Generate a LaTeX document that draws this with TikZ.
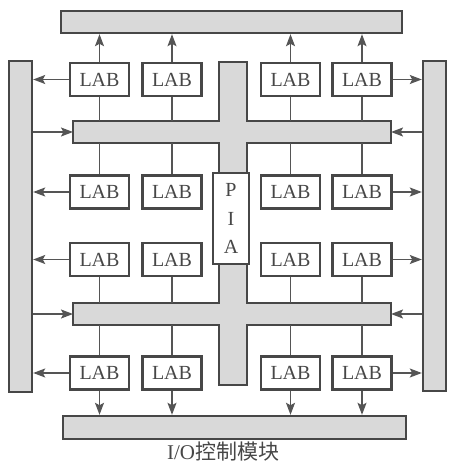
\documentclass[tikz,border=0pt]{standalone}
\usepackage{fontspec}
\setmainfont{Liberation Serif}
\newfontfamily\cjk{Noto Sans CJK SC}
\usetikzlibrary{arrows.meta,calc}
\definecolor{barfill}{HTML}{d9d9d9}
\definecolor{edge}{HTML}{474747}
\definecolor{wirec}{HTML}{555555}

\begin{document}
\begin{tikzpicture}[x=0.5pt, y=-0.5pt,
  lab/.style={draw=edge, line width=1.2pt, fill=white, minimum width=29.5pt, minimum height=16.5pt, inner sep=0pt, text=edge, font=\fontsize{10}{12}\selectfont},
  iobar/.style={draw=edge, line width=1.2pt, fill=barfill, inner sep=0pt},
  ghost/.style={inner sep=0pt, outer sep=0pt},
  wire/.style={draw=wirec, line width=0.7pt},
  sig/.style={wire, -{Stealth[length=6pt,width=4.5pt,inset=1.2pt]}}]
  \useasboundingbox (0,0) rectangle (448,464);

  % I/O control blocks
  \node[iobar, minimum width=170.5pt, minimum height=11pt] (iotop) at (231.5,22) {};
  \node[iobar, minimum width=171.5pt, minimum height=11.5pt] (iobot) at (234.5,427.5) {};
  \node[iobar, minimum width=11.5pt, minimum height=165.5pt] (iolft) at (20.5,226.5) {};
  \node[iobar, minimum width=11.5pt, minimum height=165pt] (iorgt) at (434.5,226) {};

  % Interconnect array (two buses and spine)
  \node[ghost, minimum width=159pt, minimum height=11pt] (busA) at (232,132) {};
  \node[ghost, minimum width=159pt, minimum height=11pt] (busB) at (232,314) {};
  \node[ghost, minimum width=14pt, minimum height=161.5pt] (spine) at (233,223.5) {};
  \draw[iobar] (busA.north west) -- (spine.west |- busA.north) -- (spine.north west)
    -- (spine.north east) -- (spine.east |- busA.north) -- (busA.north east)
    -- (busA.south east) -- (spine.east |- busA.south) -- (spine.east |- busB.north)
    -- (busB.north east) -- (busB.south east) -- (spine.east |- busB.south)
    -- (spine.south east) -- (spine.south west) -- (spine.west |- busB.south)
    -- (busB.south west) -- (busB.north west) -- (spine.west |- busB.north)
    -- (spine.west |- busA.south) -- (busA.south west) -- cycle;
  \node[lab, minimum width=18pt, minimum height=45.5pt, align=center,
    font=\fontsize{10}{14.25}\selectfont] (pia) at (231,218.5) {P\\I\\A};

  % LAB blocks
  \foreach \r/\y in {1/79.5,2/192,3/259.5,4/373} {
    \foreach \c/\x in {1/99.5,2/172,3/290.5,4/362} {
      \node[lab] (lab\r\c) at (\x,\y) {LAB};
    }
    \draw[sig] (lab\r1.west) -- (lab\r1.west -| iolft.east);
    \draw[sig] (lab\r4.east) -- (lab\r4.east -| iorgt.west);
  }

  % LAB to bus and I/O
  \foreach \c in {1,...,4} {
    \draw[sig] (lab1\c.north) -- (lab1\c.north |- iotop.south);
    \draw[wire] (lab1\c.south) -- (lab1\c.south |- busA.north);
    \draw[wire] (lab2\c.north) -- (lab2\c.north |- busA.south);
    \draw[wire] (lab3\c.south) -- (lab3\c.south |- busB.north);
    \draw[wire] (lab4\c.north) -- (lab4\c.north |- busB.south);
    \draw[sig] (lab4\c.south) -- (lab4\c.south |- iobot.north);
  }

  % I/O to buses
  \foreach \b in {busA,busB} {
    \draw[sig] (\b.west -| iolft.east) -- (\b.west);
    \draw[sig] (\b.east -| iorgt.west) -- (\b.east);
  }

  \node[text=edge, font=\fontsize{10.5}{12}\selectfont] (cap) at (223,452) {I/O{\cjk 控制模块}};
\end{tikzpicture}
\end{document}
